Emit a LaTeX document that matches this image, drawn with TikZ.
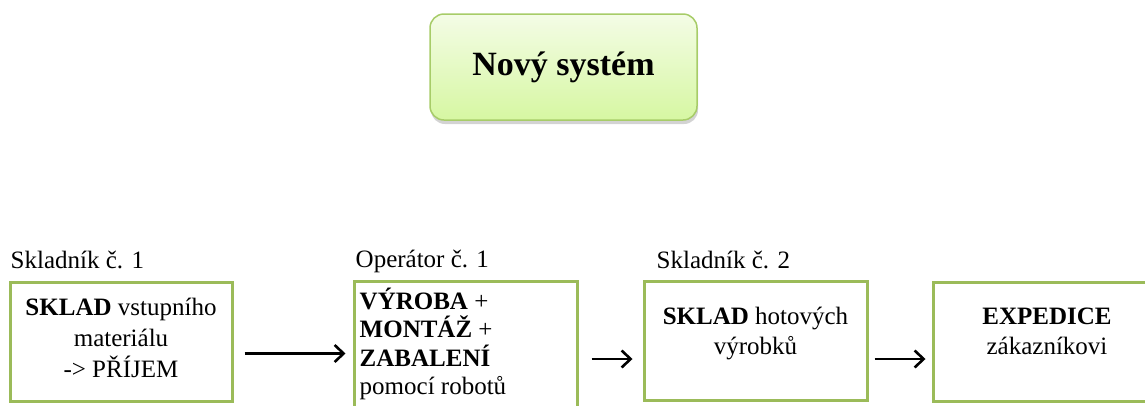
\documentclass[tikz,border=0pt]{standalone}
\usepackage{fontspec}
\setmainfont{Liberation Serif}
\usetikzlibrary{shapes, arrows.meta, positioning, shadows, calc}
\definecolor{BoxGreen}{RGB}{155, 187, 89}
\definecolor{TitleTop}{RGB}{244, 252, 230}
\definecolor{TitleBottom}{RGB}{214, 247, 162}
\definecolor{TitleEdge}{RGB}{167, 204, 104}

\begin{document}
\begin{tikzpicture}[
        x=1pt, y=-1pt,
        stepbox/.style={draw=BoxGreen, line width=3pt, minimum width=222pt, minimum height=119pt, inner sep=0pt},
        steptext/.style={font=\fontsize{25}{31}\selectfont, align=center, inner sep=0pt},
        role/.style={font=\fontsize{25}{30}\selectfont, inner sep=0pt, anchor=base west},
        flow/.style={-{Straight Barb[length=9pt, width=17pt]}, line width=2.6pt, black}
    ]
        \useasboundingbox (0,0) rectangle (1145,405);

        % Title
        \node[rounded corners=14pt, draw=TitleEdge, line width=1.5pt, top color=TitleTop, bottom color=TitleBottom,
              drop shadow={shadow xshift=1pt, shadow yshift=-4pt, opacity=0.35},
              minimum width=267pt, minimum height=106pt, font=\fontsize{34}{40}\selectfont\bfseries] (title) at (563.5, 67) {Nový systém};

        % Step 1
        \node[stepbox] (vstup) at (121, 341.5) {};
        \node[steptext] (vstuptext) at ([yshift=4pt]vstup.center) {\textbf{SKLAD} vstupního\\materiálu\\-> PŘÍJEM};
        \node[role] (sklad1) at ([xshift=2pt, yshift=12pt]vstup.north west) {Skladník č. 1};

        % Step 2
        \node[stepbox, minimum width=223pt, minimum height=140pt] (vyroba) at (465.5, 351) {};
        \node[steptext, align=left, anchor=north west, font=\fontsize{25}{28.5}\selectfont] (vyrobatext) at ([xshift=7pt, yshift=-8pt]vyroba.north west) {\textbf{VÝROBA} +\\\textbf{MONTÁŽ} +\\\textbf{ZABALENÍ}\\pomocí robotů};
        \node[role] (operator1) at ([xshift=3pt, yshift=12pt]vyroba.north west) {Operátor č. 1};

        % Step 3
        \node[stepbox, minimum width=223pt] (hotove) at (755.5, 341) {};
        \node[steptext, anchor=north, font=\fontsize{25}{30}\selectfont] (hotovetext) at ([yshift=-27pt]hotove.north) {\textbf{SKLAD} hotových\\výrobků};
        \node[role] (sklad2) at ([xshift=14pt, yshift=12pt]hotove.north west) {Skladník č. 2};

        % Step 4
        \node[stepbox, minimum width=228pt] (expedice) at (1047, 341.5) {};
        \node[steptext, anchor=north, font=\fontsize{25}{30}\selectfont] (expedicetext) at ([yshift=-27pt]expedice.north) {\textbf{EXPEDICE}\\zákazníkovi};

        % Arrows
        \draw[flow, shorten <=11pt, shorten >=7pt] ([yshift=-12pt]vstup.east) -- ([yshift=-12pt]vstup.east -| vyroba.west);
        \draw[flow, shorten <=13pt, shorten >=10pt] ([yshift=-8pt]vyroba.east) -- ([yshift=-8pt]vyroba.east -| hotove.west);
        \draw[flow, shorten <=6pt, shorten >=6pt] ([yshift=-18pt]hotove.east) -- ([yshift=-18pt]hotove.east -| expedice.west);
    \end{tikzpicture}
\end{document}
